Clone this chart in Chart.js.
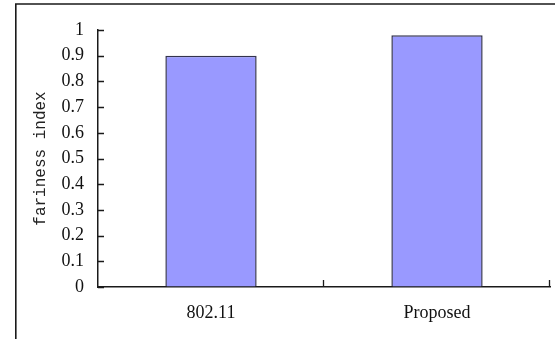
<!DOCTYPE html>
<html>
<head>
<meta charset="utf-8">
<script src="https://cdn.jsdelivr.net/npm/chart.js@4/dist/chart.umd.min.js"></script>
<style>
  html, body { margin: 0; padding: 0; background: #fff; }
  canvas { display: block; }
</style>
</head>
<body>
<canvas id="c" width="555" height="339"></canvas>
<script>
// Fairness index per scheme
const categories = ['802.11', 'Proposed'];
const fairness = [0.9, 0.98];
const yMin = 0, yMax = 1, yStep = 0.1;
const yTitle = 'fariness index';

const INK = '#1a1a1a';

// Outer frame (top and left edges) plus inward tick marks on both axes
const framePlugin = {
  id: 'frameAndTicks',
  afterDraw(chart) {
    const ctx = chart.ctx;
    const { x, y } = chart.scales;
    const area = chart.chartArea;
    ctx.save();
    ctx.strokeStyle = INK;

    // frame
    ctx.lineWidth = 1.6;
    ctx.beginPath();
    ctx.moveTo(15.8, chart.height);
    ctx.lineTo(15.8, 4);
    ctx.lineTo(chart.width, 4);
    ctx.stroke();

    // y ticks pointing into the plot
    ctx.lineWidth = 1.3;
    ctx.beginPath();
    y.ticks.forEach(t => {
      const py = Math.round(y.getPixelForValue(t.value)) + 0.5;
      ctx.moveTo(area.left, py);
      ctx.lineTo(area.left + 6, py);
    });
    // x ticks at category boundaries
    for (let i = 0; i < categories.length; i++) {
      const px = Math.round(x.getPixelForValue(i + 0.5)) - 0.5;
      ctx.moveTo(px, area.bottom);
      ctx.lineTo(px, area.bottom - 7);
    }
    ctx.stroke();
    ctx.restore();
  }
};

new Chart(document.getElementById('c'), {
  type: 'bar',
  data: {
    labels: categories,
    datasets: [{
      data: fairness,
      backgroundColor: '#9999ff',
      borderColor: '#33334d',
      borderWidth: 1.5,
      barPercentage: 0.404,
      categoryPercentage: 1.0
    }]
  },
  options: {
    responsive: false,
    devicePixelRatio: 1,
    animation: false,
    layout: { padding: { left: 0, top: 30, right: 5, bottom: 0 } },
    plugins: { legend: { display: false }, tooltip: { enabled: false } },
    scales: {
      x: {
        grid: { drawOnChartArea: false, drawTicks: false, color: 'rgba(0,0,0,0)' },
        border: { display: true, color: INK, width: 1.5 },
        ticks: {
          color: '#111',
          padding: 15,
          font: { family: '"Liberation Serif", serif', size: 18 }
        },
        afterFit(scale) { scale.height = 52; }
      },
      y: {
        min: yMin,
        max: yMax,
        grid: { drawOnChartArea: false, drawTicks: false, color: 'rgba(0,0,0,0)' },
        border: { display: true, color: INK, width: 1.5 },
        ticks: {
          stepSize: yStep,
          color: '#111',
          padding: 14,
          font: { family: '"Liberation Serif", serif', size: 18 },
          callback: v => String(Number(v.toFixed(1)))
        },
        title: {
          display: true,
          text: yTitle,
          color: '#222',
          padding: { top: 31, bottom: 0 },
          font: { family: '"Liberation Mono", monospace', size: 16 }
        },
        afterFit(scale) { scale.width = 98; }
      }
    }
  },
  plugins: [framePlugin]
});
</script>
</body>
</html>
